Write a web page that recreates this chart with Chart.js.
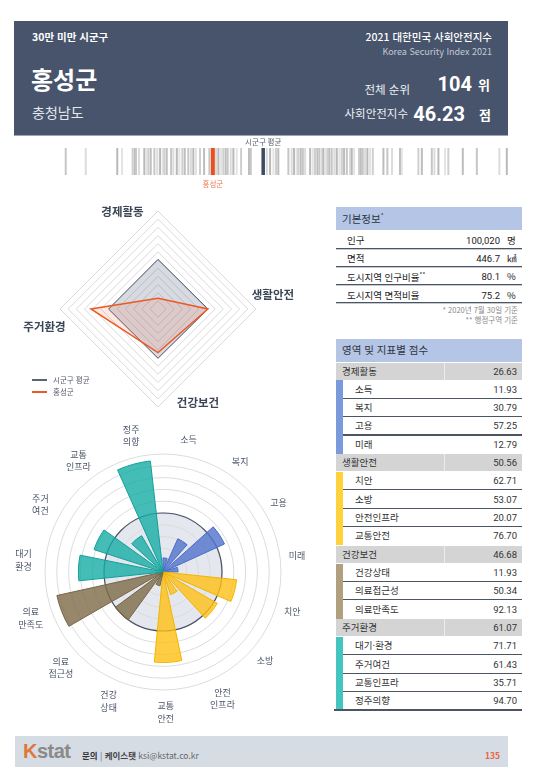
<!DOCTYPE html>
<html lang="ko">
<head>
<meta charset="utf-8">
<script src="https://cdn.jsdelivr.net/npm/chart.js@4.4.1/dist/chart.umd.min.js"></script>
<style>
  body { margin: 0; background: #fff; font-family: "Noto Sans CJK KR", "Noto Sans", sans-serif; }
  #page { position: relative; width: 540px; height: 780px; overflow: hidden; }
  #page div, #page span, #page canvas { position: absolute; }
  .t { white-space: nowrap; line-height: 1; }
  .num { font-family: Roboto, "Noto Sans CJK KR", sans-serif; }
</style>
</head>
<body>
<div id="page">
  <!-- header -->
  <div style="left:14px;top:21px;width:494px;height:114px;background:#47546b;border-bottom:1px solid #9ea5b3;"></div>
  <div class="t" style="left:32px;top:31.5px;font-size:10.5px;font-weight:700;color:#fff;">30만 미만 시군구</div>
  <div class="t" style="left:31px;top:66.5px;font-size:24px;font-weight:700;color:#fff;">홍성군</div>
  <div class="t" style="left:32px;top:105px;font-size:14px;color:#e3e7ee;">충청남도</div>
  <div class="t" style="right:48px;top:31.5px;font-size:10.5px;font-weight:500;color:#fff;">2021 대한민국 사회안전지수</div>
  <div class="t" style="right:48px;top:46.5px;font-size:9px;color:#c3cad6;">Korea Security Index 2021</div>
  <div class="t" style="right:130px;top:83.5px;font-size:11.5px;color:#eef1f5;">전체 순위</div>
  <div class="t num" style="right:68px;top:74px;font-size:20px;font-weight:700;color:#fff;">104</div>
  <div class="t" style="left:478px;top:78px;font-size:13px;font-weight:700;color:#fff;">위</div>
  <div class="t" style="right:132px;top:107.5px;font-size:11.5px;color:#eef1f5;">사회안전지수</div>
  <div class="t num" style="right:75px;top:103.5px;font-size:20px;font-weight:700;color:#fff;">46.23</div>
  <div class="t" style="left:479px;top:107.5px;font-size:13px;font-weight:700;color:#fff;">점</div>

  <!-- barcode of all district scores -->
  <canvas id="barcodeChart" width="444" height="55" style="left:64px;top:136px;"></canvas>

  <!-- radar -->
  <canvas id="radarChart" width="310" height="220" style="left:10px;top:200px;"></canvas>
  <div style="left:32px;top:379.3px;width:15px;height:1.5px;background:#5a6275;"></div>
  <div class="t" style="left:53px;top:376px;font-size:7.5px;color:#555c68;">시군구 평균</div>
  <div style="left:32px;top:390.5px;width:15px;height:2.5px;background:#ec5a24;"></div>
  <div class="t" style="left:53px;top:388px;font-size:7.5px;color:#555c68;">홍성군</div>

  <!-- polar -->
  <canvas id="polarChart" width="315" height="310" style="left:5px;top:425px;"></canvas>

  <!-- tables -->
  <div id="tables"></div>

  <!-- footer -->
  <div style="left:15px;top:736px;width:493px;height:31px;background:#d6dce4;"></div>
  <div class="t" style="left:23px;top:741px;font-family:'Liberation Sans',sans-serif;font-size:20px;font-weight:700;color:#8a8a8a;letter-spacing:-0.5px;"><span style="position:static;color:#e0773c;">K</span>stat</div>
  <div class="t" style="left:82px;top:750.5px;font-size:8.5px;color:#666;"><b style="color:#333;">문의</b> | <b style="color:#444;">케이스탯</b> ksi@kstat.co.kr</div>
  <div class="t" style="right:40px;top:750.5px;font-size:8.5px;font-weight:700;color:#e8643a;">135</div>
</div>

<script>
document.addEventListener("DOMContentLoaded", function() {
  // area scores (radar) and the district average
  const groups = ['경제활동', '생활안전', '건강보건', '주거환경'];
  const groupScores = [26.63, 50.56, 46.68, 61.07];
  const avgScores = [50.4, 50.6, 50.2, 50.3];

  // indicator scores (polar + table)
  const indicators = ['소득', '복지', '고용', '미래', '치안', '소방', '안전인프라', '교통안전',
    '건강상태', '의료접근성', '의료만족도', '대기·환경', '주거여건', '교통인프라', '정주의향'];
  const indicatorGroup = [0, 0, 0, 0, 1, 1, 1, 1, 2, 2, 2, 3, 3, 3, 3];
  const indicatorScores = [11.93, 30.79, 57.25, 12.79, 62.71, 53.07, 20.07, 76.70,
    11.93, 50.34, 92.13, 71.71, 61.43, 35.71, 94.70];
  const polarLabels = [['소득'], ['복지'], ['고용'], ['미래'], ['치안'], ['소방'], ['안전', '인프라'],
    ['교통', '안전'], ['건강', '상태'], ['의료', '접근성'], ['의료', '만족도'], ['대기', '환경'],
    ['주거', '여건'], ['교통', '인프라'], ['정주', '의향']];

  // basic info table
  const infoLabels = ['인구', '면적', '도시지역 인구비율<sup>**</sup>', '도시지역 면적비율'];
  const infoValues = ['100,020', '446.7', '80.1', '75.2'];
  const infoUnits = ['명', '㎢', '%', '%'];

  // social safety index of every district (barcode strip)
  const hongseongScore = 46.23;
  const districtAvg = 50.03;
  const districtScores = [35.13, 36.64, 39.02, 39.38, 40.18, 40.34, 40.43, 40.66, 41.06, 41.19,
    41.36, 41.54, 41.82, 42.04, 42.25, 42.45, 42.57, 42.75, 43.08, 43.25, 43.51, 43.70, 43.93,
    44.11, 44.38, 44.58, 44.76, 44.96, 45.26, 45.57, 45.97, 46.47, 46.65, 46.85, 47.02, 47.20,
    47.35, 47.58, 47.78, 48.03, 48.36, 48.96, 49.09, 50.30, 50.55, 50.80, 51.00, 51.17, 51.93,
    52.18, 52.36, 52.56, 52.68, 52.86, 53.02, 53.19, 53.57, 53.77, 53.94, 54.12, 54.27, 54.45,
    54.57, 54.70, 54.87, 55.02, 55.20, 55.40, 55.58, 55.78, 55.96, 56.13, 56.34, 56.58, 56.71,
    56.89, 57.26, 57.39, 57.54, 57.72, 57.89, 58.09, 58.30, 59.10, 59.40, 59.75, 60.36, 60.49,
    61.74, 62.00, 62.75, 62.95, 63.25, 63.75, 64.00, 65.09, 66.15, 67.85, 68.41];

  const groupFill = ['rgba(84,117,205,0.82)', 'rgba(255,193,20,0.8)', 'rgba(128,110,76,0.82)', 'rgba(22,172,165,0.8)'];
  const groupLine = ['#4a6cc8', '#f2b400', '#74644a', '#12a09a'];
  const groupBar = ['#7b9adb', '#ffd13c', '#b0a07f', '#45c5bf'];
  const barShades = ['#c6c6c6', '#dcdcdc', '#b9b9b9', '#e4e4e4', '#cfcfcf', '#bdbdbd'];
  const font = '"Noto Sans CJK KR", "Noto Sans", sans-serif';

  // ---------- barcode ----------
  const barcodeLabels = {
    id: 'barcodeLabels',
    afterDraw(chart) {
      const ctx = chart.ctx, x = chart.scales.x;
      ctx.save();
      ctx.font = '7.5px ' + font;
      ctx.textAlign = 'center';
      ctx.textBaseline = 'middle';
      ctx.fillStyle = '#5a6070';
      ctx.fillText('시군구 평균', x.getPixelForValue(districtAvg), 6.5);
      ctx.fillStyle = '#f07850';
      ctx.fillText('홍성군', x.getPixelForValue(hongseongScore), 48.5);
      ctx.restore();
    }
  };
  const line = { pointStyle: 'line', rotation: 90, pointRadius: 13.5, pointHoverRadius: 13.5 };
  new Chart(document.getElementById('barcodeChart'), {
    type: 'scatter',
    data: {
      datasets: [
        Object.assign({ data: [{ x: hongseongScore, y: 0 }], pointBorderColor: '#e8501e', pointBorderWidth: 4 }, line),
        Object.assign({ data: [{ x: districtAvg, y: 0 }], pointBorderColor: '#3f4b62', pointBorderWidth: 3.5 }, line),
        Object.assign({
          data: districtScores.map(s => ({ x: s, y: 0 })),
          pointBorderColor: c => barShades[c.index % barShades.length],
          pointBorderWidth: 2
        }, line)
      ]
    },
    options: {
      responsive: false,
      animation: false,
      layout: { autoPadding: false, padding: { top: 10, bottom: 14, left: 0, right: 0 } },
      plugins: { legend: { display: false }, tooltip: { enabled: false } },
      scales: {
        x: { type: 'linear', min: 35, max: 68.5, display: false },
        y: { min: -1, max: 1, display: false }
      }
    },
    plugins: [barcodeLabels]
  });

  // ---------- radar ----------
  const radarAnchors = [[-0.362, -0.993], [1.173, -0.143], [0.408, 0.954], [-1.158, 0.184]];
  const radarLabels = {
    id: 'radarLabels',
    afterDraw(chart) {
      const s = chart.scales.r, ctx = chart.ctx, R = s.drawingArea;
      ctx.save();
      ctx.font = 'bold 11.5px ' + font;
      ctx.fillStyle = '#3b4657';
      ctx.textAlign = 'center';
      ctx.textBaseline = 'middle';
      groups.forEach((g, i) => {
        ctx.fillText(g, s.xCenter + radarAnchors[i][0] * R, s.yCenter + radarAnchors[i][1] * R);
      });
      ctx.restore();
    }
  };
  new Chart(document.getElementById('radarChart'), {
    type: 'radar',
    data: {
      labels: groups,
      datasets: [
        { label: '홍성군', data: groupScores, borderColor: '#ec5a24', backgroundColor: 'rgba(240,106,58,0.15)', borderWidth: 1.5, pointRadius: 0 },
        { label: '시군구 평균', data: avgScores, borderColor: '#525c70', backgroundColor: 'rgba(72,88,118,0.22)', borderWidth: 1, pointRadius: 0 }
      ]
    },
    options: {
      responsive: false,
      animation: false,
      layout: { padding: { left: 50, top: 11, right: 64, bottom: 13 } },
      plugins: { legend: { display: false }, tooltip: { enabled: false } },
      scales: {
        r: {
          min: 20, max: 80,
          ticks: { display: false, stepSize: 5 },
          grid: { color: '#d9d9d9', lineWidth: 1 },
          angleLines: { display: false },
          pointLabels: { display: false }
        }
      }
    },
    plugins: [radarLabels]
  });

  // ---------- polar area ----------
  const polarData = [], polarCats = [];
  indicatorScores.forEach((v, i) => { polarData.push(v, 0); polarCats.push(indicators[i], ''); });
  const polarExtras = {
    id: 'polarExtras',
    beforeDraw(chart) {
      // national reference disk (score 50)
      const s = chart.scales.r, ctx = chart.ctx;
      ctx.save();
      ctx.beginPath();
      ctx.arc(s.xCenter, s.yCenter, s.getDistanceFromCenterForValue(50), 0, Math.PI * 2);
      ctx.fillStyle = '#e4e7ee';
      ctx.fill();
      ctx.restore();
    },
    beforeDatasetsDraw(chart) {
      const s = chart.scales.r, ctx = chart.ctx;
      ctx.save();
      ctx.beginPath();
      ctx.arc(s.xCenter, s.yCenter, s.getDistanceFromCenterForValue(50), 0, Math.PI * 2);
      ctx.strokeStyle = '#4a5266';
      ctx.lineWidth = 1.2;
      ctx.stroke();
      ctx.restore();
    },
    afterDraw(chart) {
      const s = chart.scales.r, ctx = chart.ctx;
      const arcs = chart.getDatasetMeta(0).data;
      ctx.save();
      ctx.font = '9px ' + font;
      ctx.fillStyle = '#4a5468';
      ctx.textAlign = 'center';
      ctx.textBaseline = 'middle';
      polarLabels.forEach((lines, i) => {
        const arc = arcs[i * 2];
        const a = arc.startAngle + (arc.endAngle - arc.startAngle) * 0.62;
        const r = s.drawingArea + (lines.length > 1 ? 22 : 17);
        const x = s.xCenter + r * Math.cos(a), y = s.yCenter + r * Math.sin(a);
        lines.forEach((t, k) => ctx.fillText(t, x, y + (k - (lines.length - 1) / 2) * 12.5));
      });
      ctx.restore();
    }
  };
  new Chart(document.getElementById('polarChart'), {
    type: 'polarArea',
    data: {
      labels: polarCats,
      datasets: [{
        data: polarData,
        angle: c => (c.index % 2 ? 6.5 : 17.5),
        backgroundColor: c => (c.index % 2 ? 'rgba(0,0,0,0)' : groupFill[indicatorGroup[c.index / 2]]),
        borderColor: c => (c.index % 2 ? 'rgba(0,0,0,0)' : groupLine[indicatorGroup[c.index / 2]]),
        borderWidth: c => (c.index % 2 ? 0 : 1)
      }]
    },
    options: {
      responsive: false,
      animation: false,
      layout: { padding: { left: 40, top: 29, right: 39, bottom: 45 } },
      plugins: { legend: { display: false }, tooltip: { enabled: false } },
      scales: {
        r: {
          min: 0, max: 100,
          ticks: { display: false, stepSize: 10 },
          grid: { color: '#dcdcdc' },
          angleLines: { display: false },
          pointLabels: { display: false }
        }
      }
    },
    plugins: [polarExtras]
  });

  // ---------- tables ----------
  let html = '';
  const hdr = (top, text) =>
    `<div style="left:336px;top:${top}px;width:186px;height:23px;background:#b4c5e6;"></div>` +
    `<div class="t" style="left:342px;top:${top + 6}px;font-size:10.5px;color:#2e3440;">${text}</div>`;

  html += hdr(207, '기본정보<sup style="font-size:6px;">*</sup>');
  const infoH = 18.2;
  infoLabels.forEach((lab, i) => {
    const t = 231 + i * infoH;
    html += `<div class="t" style="left:347px;top:${t + 5}px;font-size:9.5px;color:#222;">${lab.replace('<sup>', '<sup style="font-size:6px;">')}</div>`;
    html += `<div class="t num" style="right:40px;top:${t + 5}px;font-size:9.5px;color:#222;">${infoValues[i]}</div>`;
    html += `<div class="t" style="left:507px;top:${t + 5}px;font-size:9.5px;color:#222;">${infoUnits[i]}</div>`;
    html += `<div style="left:336px;top:${t + infoH - 1.5}px;width:186px;height:1.2px;background:#4d5565;border-bottom:1px solid #c3c8d1;"></div>`;
  });
  html += `<div class="t" style="right:22px;top:305.5px;font-size:7.5px;color:#8a8a8a;">* 2020년 7월 30일 기준</div>`;
  html += `<div class="t" style="right:22px;top:315.5px;font-size:7.5px;color:#8a8a8a;">** 행정구역 기준</div>`;

  html += hdr(339, '영역 및 지표별 점수');
  const rowH = 18.33;
  let row = 0;
  groups.forEach((g, gi) => {
    const t = 362 + row * rowH;
    html += `<div style="left:336px;top:${t + 0.8}px;width:186px;height:17px;background:#d4d4d4;"></div>`;
    html += `<div style="left:444px;top:${t + 0.8}px;width:1px;height:17px;background:#ececec;"></div>`;
    html += `<div class="t" style="left:342px;top:${t + 4.5}px;font-size:9.5px;color:#333;">${g}</div>`;
    html += `<div class="t num" style="right:23px;top:${t + 4.5}px;font-size:9.5px;color:#333;">${groupScores[gi].toFixed(2)}</div>`;
    row++;
    const members = indicators.map((n, i) => i).filter(i => indicatorGroup[i] === gi);
    members.forEach((idx, k) => {
      const tt = 362 + row * rowH;
      html += `<div style="left:336px;top:${tt}px;width:7px;height:${rowH}px;background:${groupBar[gi]};"></div>`;
      html += `<div class="t" style="left:355px;top:${tt + 4.5}px;font-size:9.5px;color:#333;">${indicators[idx]}</div>`;
      html += `<div class="t num" style="right:23px;top:${tt + 4.5}px;font-size:9.5px;color:#333;">${indicatorScores[idx].toFixed(2)}</div>`;
      const lastAll = gi === groups.length - 1 && k === members.length - 1;
      if (k < members.length - 1) {
        html += `<div style="left:343px;top:${tt + rowH - 1}px;width:179px;height:1.2px;background:#4d5565;"></div>`;
      } else if (lastAll) {
        html += `<div style="left:334px;top:${tt + rowH - 1}px;width:188px;height:1.5px;background:#4d5565;"></div>`;
      }
      row++;
    });
  });
  document.getElementById('tables').outerHTML = html;
});
</script>
</body>
</html>
